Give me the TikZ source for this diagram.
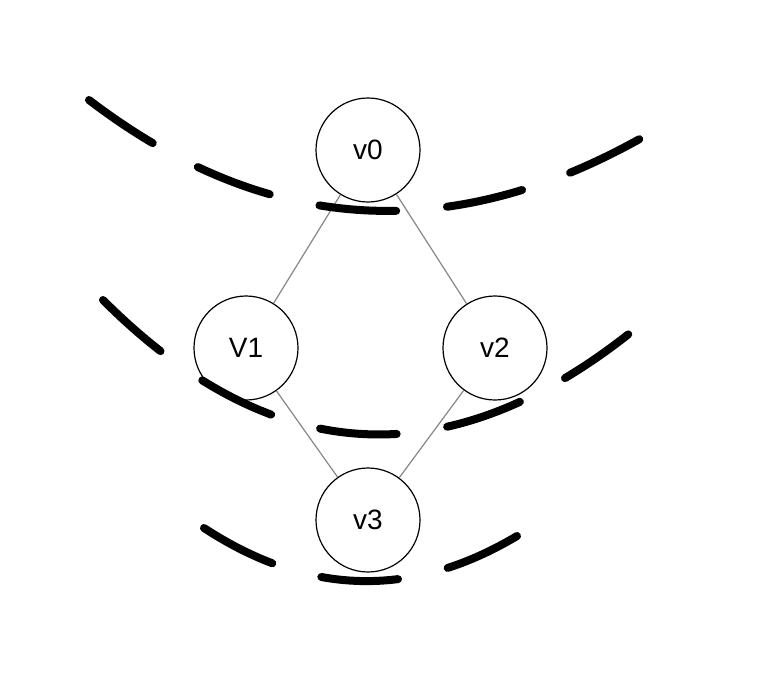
\documentclass[tikz,border=0pt]{standalone}
\usepackage{fontspec}
\setmainfont{Liberation Sans}
\begin{document}
\begin{tikzpicture}[x=1pt,y=-1pt,
  vert/.style={circle,draw=black,fill=white,line width=1.2pt,minimum size=104pt,inner sep=0pt,font=\fontsize{28}{32}\selectfont},
  edge/.style={draw=gray!95,line width=1.2pt},
  thickdash/.style={line width=8pt,line cap=round,dash pattern=on 77pt off 51pt}]
\useasboundingbox (0,0) rectangle (778,696);
\node[vert] (v0) at (368,150) {v0};
\node[vert] (v1) at (246,348) {V1};
\node[vert] (v2) at (495,348) {v2};
\node[vert] (v3) at (368,520) {v3};
\draw[edge] (v0) -- (v1);
\draw[edge] (v0) -- (v2);
\draw[edge] (v1) -- (v3);
\draw[edge] (v2) -- (v3);
\coordinate (a0) at (89,100);
\coordinate (a1) at (645,136);
\coordinate (b0) at (103,300);
\coordinate (b1) at (630,333);
\coordinate (c0) at (204,528);
\coordinate (c1) at (517,536);
\draw[thickdash] (a0) .. controls (265.3,234.7) and (450.3,246.7) .. (a1);
\draw[thickdash] (b0) .. controls (270.3,467.3) and (445.7,478.7) .. (b1);
\draw[thickdash] (c0) .. controls (308,596) and (412,598.7) .. (c1);
\end{tikzpicture}
\end{document}
